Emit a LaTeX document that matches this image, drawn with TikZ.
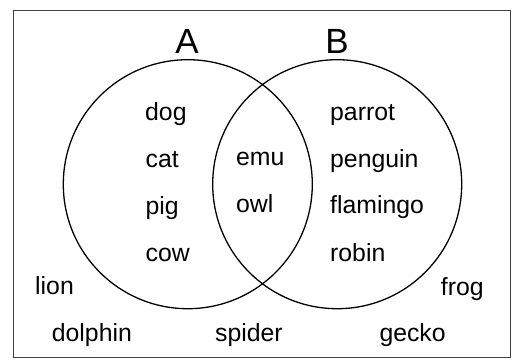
\documentclass[tikz,border=0pt]{standalone}
\usepackage{fontspec}
\setmainfont{Liberation Sans}
\begin{document}
\begin{tikzpicture}[x=1pt,y=-1pt,
  lbl/.style={anchor=base west,inner sep=0pt,font=\fontsize{24.8}{28}\selectfont},
  setname/.style={anchor=base,inner sep=0pt,font=\fontsize{35}{40}\selectfont},
  setcircle/.style={draw=black,line width=1.3pt,circle,minimum size=249pt,inner sep=0pt}]
\useasboundingbox (0,0) rectangle (515,360);
\fill[white] (0,0) rectangle (515,360);
\draw[draw=black!75,line width=1.8pt] (13.5,10.5) rectangle (510.5,357.5);
\node[setcircle] (cA) at (187.8,184.2) {};
\node[setcircle] (cB) at (337.2,184.2) {};
\node[setname] (A) at (187,53.3) {A};
\node[setname] (B) at (337,53.3) {B};
\node[lbl] (dog) at (145,120.7) {dog};
\node[lbl] (cat) at (145.5,167.7) {cat};
\node[lbl] (pig) at (145.5,214.3) {pig};
\node[lbl] (cow) at (145.5,261.7) {cow};
\node[lbl] (emu) at (236,165.7) {emu};
\node[lbl] (owl) at (236,212.3) {owl};
\node[lbl] (parrot) at (330,120.3) {parrot};
\node[lbl] (penguin) at (330,167.3) {penguin};
\node[lbl] (flamingo) at (330,213.5) {flamingo};
\node[lbl] (robin) at (330,261.7) {robin};
\node[lbl] (lion) at (35,294.3) {lion};
\node[lbl] (frog) at (440.7,295) {frog};
\node[lbl] (dolphin) at (51.7,341.7) {dolphin};
\node[lbl] (spider) at (215,341.7) {spider};
\node[lbl] (gecko) at (379.3,341.7) {gecko};
\end{tikzpicture}
\end{document}
